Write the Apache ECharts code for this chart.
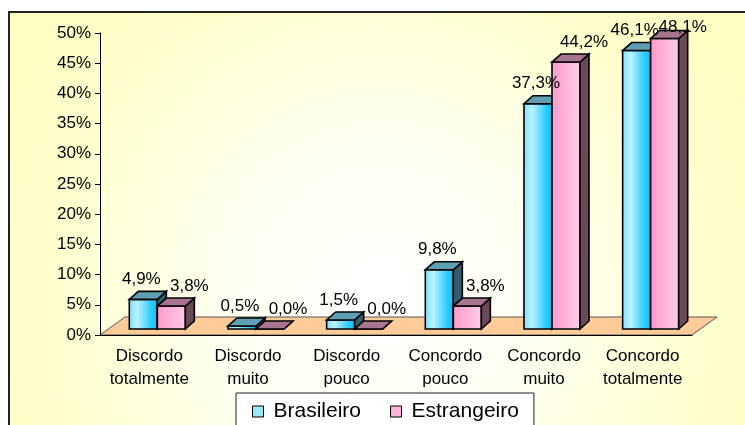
<!DOCTYPE html>
<html>
<head>
<meta charset="utf-8">
<script src="https://cdn.jsdelivr.net/npm/echarts@6/dist/echarts.min.js"></script>
<style>
  html, body { margin: 0; padding: 0; background: #fff; }
  #main { width: 745px; height: 425px; }
</style>
</head>
<body>
<div id="main"></div>
<script>
// dados
var categorias = ['Discordo\ntotalmente', 'Discordo\nmuito', 'Discordo\npouco',
                  'Concordo\npouco', 'Concordo\nmuito', 'Concordo\ntotalmente'];
var brasileiro = [4.9, 0.5, 1.5, 9.8, 37.3, 46.1];
var estrangeiro = [3.8, 0.0, 0.0, 3.8, 44.2, 48.1];
var nomes = ['Brasileiro', 'Estrangeiro'];

var FONTE = '"Liberation Sans", Arial, sans-serif';

// "3D" estilo Excel
var DESLOC_X = 8, DESLOC_Y = -6;   // face frontal das barras em relacao ao eixo
var PROF_X = 9, PROF_Y = -8;       // profundidade da barra
var PISO_X = 25, PISO_Y = -18;     // profundidade do piso

var cores = [
  { frente: ['#7FDFFF', '#B8F2FF', '#33CCFF', '#00C0F8'], topo: '#5E9FB4', lado: '#2F5E6E', legenda: '#99E6FF', rotX: -2 },
  { frente: ['#FF99CC', '#FFAAD5', '#FFC0E0', '#FFCCE8'], topo: '#A87490', lado: '#6A4A5A', legenda: '#FFB3D9', rotX: 18 }
];

function fmt(v) {
  return v.toFixed(1).replace('.', ',') + '%';
}

function desenhaBarra(lado) {
  return function (params, api) {
    var ci = api.value(0), v = api.value(1);
    var base = api.coord([ci, 0]);
    var topo = api.coord([ci, v]);
    var w = api.size([1, 0])[0] * 0.284;
    var x0 = base[0] + DESLOC_X + (lado === 0 ? -w : 0);
    var x1 = x0 + w;
    var yb = base[1] + DESLOC_Y;
    var yt = topo[1] + DESLOC_Y;
    var c = cores[lado];
    var borda = { stroke: '#000', lineWidth: 1.6 };
    return {
      type: 'group',
      children: [
        {
          type: 'rect',
          shape: { x: x0, y: yt, width: w, height: yb - yt },
          style: Object.assign({
            fill: new echarts.graphic.LinearGradient(0, 0, 1, 0, [
              { offset: 0, color: c.frente[0] },
              { offset: 0.3, color: c.frente[1] },
              { offset: 0.75, color: c.frente[2] },
              { offset: 1, color: c.frente[3] }
            ])
          }, borda)
        },
        {
          type: 'polygon',
          shape: { points: [[x1, yb], [x1, yt], [x1 + PROF_X, yt + PROF_Y], [x1 + PROF_X, yb + PROF_Y]] },
          style: Object.assign({ fill: c.lado }, borda)
        },
        {
          type: 'polygon',
          shape: { points: [[x0, yt], [x1, yt], [x1 + PROF_X, yt + PROF_Y], [x0 + PROF_X, yt + PROF_Y]] },
          style: Object.assign({ fill: c.topo }, borda)
        },
        {
          type: 'text',
          z2: 100,
          style: {
            text: fmt(v),
            x: (x0 + x1) / 2 + c.rotX,
            y: Math.max(yt - 20, params.coordSys.y - 6),
            align: 'center',
            verticalAlign: 'middle',
            fontSize: 17,
            fontFamily: FONTE,
            fill: '#000'
          }
        }
      ]
    };
  };
}

function desenhaPiso(params, api) {
  var cs = params.coordSys;
  var yb = cs.y + cs.height;
  return {
    type: 'polygon',
    shape: { points: [[cs.x, yb], [cs.x + cs.width, yb], [cs.x + cs.width + PISO_X, yb + PISO_Y], [cs.x + PISO_X, yb + PISO_Y]] },
    style: { fill: '#FFCC99', stroke: '#555', lineWidth: 1 }
  };
}

var chart = echarts.init(document.getElementById('main'));
chart.setOption({
  backgroundColor: '#fff',
  animation: false,
  textStyle: { fontFamily: FONTE },
  graphic: [{
    type: 'rect',
    z: -100,
    silent: true,
    shape: { x: 9, y: 12, width: 780, height: 450 },
    style: {
      fill: {
        type: 'radial', x: 380, y: 300, r: 480, global: true,
        colorStops: [
          { offset: 0, color: '#FFFFFF' },
          { offset: 0.35, color: '#FFFFF0' },
          { offset: 0.7, color: '#FFFECC' },
          { offset: 1, color: '#FFFDC0' }
        ]
      },
      stroke: '#222',
      lineWidth: 2
    }
  }],
  grid: { left: 100, right: 53, top: 33, bottom: 90 },
  legend: {
    data: nomes,
    left: 236,
    top: 393,
    padding: [8, 15, 30, 16],
    itemGap: 29,
    itemWidth: 11,
    itemHeight: 11,
    icon: 'rect',
    backgroundColor: '#fff',
    borderColor: '#222',
    borderWidth: 1,
    borderRadius: 0,
    itemStyle: { borderColor: '#000', borderWidth: 1 },
    textStyle: { fontSize: 21, color: '#000', fontFamily: FONTE, padding: [0, 0, 0, 5] }
  },
  xAxis: {
    type: 'category',
    data: categorias,
    z: 5,
    axisLine: { lineStyle: { color: '#000', width: 1 } },
    axisTick: { length: 6, lineStyle: { color: '#000' } },
    axisLabel: { fontSize: 17, color: '#000', lineHeight: 23, margin: 10, interval: 0, fontFamily: FONTE }
  },
  yAxis: {
    type: 'value',
    min: 0,
    max: 50,
    interval: 5,
    z: 5,
    splitLine: { show: false },
    axisLine: { show: true, lineStyle: { color: '#000', width: 1 } },
    axisTick: { show: true, length: 5, lineStyle: { color: '#000' } },
    axisLabel: { formatter: '{value}%', fontSize: 17, color: '#000', margin: 9, fontFamily: FONTE }
  },
  series: [
    {
      type: 'custom',
      name: 'piso',
      silent: true,
      z: 1,
      renderItem: desenhaPiso,
      data: [[0, 0]],
      encode: { x: 0, y: 1 }
    },
    {
      type: 'custom',
      name: nomes[0],
      z: 2,
      itemStyle: { color: cores[0].legenda },
      renderItem: desenhaBarra(0),
      data: brasileiro.map(function (v, i) { return [i, v]; }),
      encode: { x: 0, y: 1 }
    },
    {
      type: 'custom',
      name: nomes[1],
      z: 2,
      itemStyle: { color: cores[1].legenda },
      renderItem: desenhaBarra(1),
      data: estrangeiro.map(function (v, i) { return [i, v]; }),
      encode: { x: 0, y: 1 }
    }
  ]
});
</script>
</body>
</html>
